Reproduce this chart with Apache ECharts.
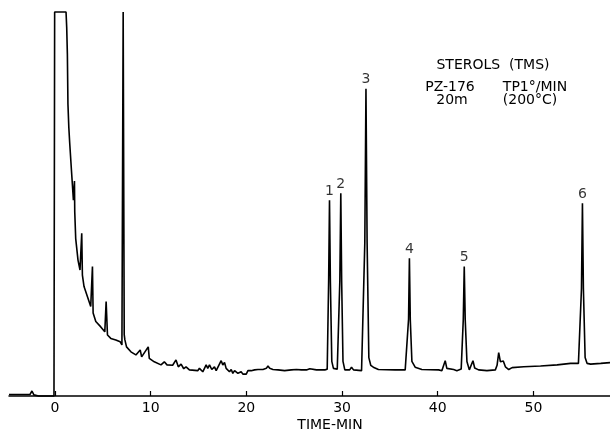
<!DOCTYPE html>
<html>
<head>
<meta charset="utf-8">
<script src="https://cdn.jsdelivr.net/npm/echarts@6/dist/echarts.min.js"></script>
<style>
html,body{margin:0;padding:0;background:#fff;}
#c{width:610px;height:435px;}
</style>
</head>
<body>
<div id="c"></div>
<script>
// Detector trace: time (min) and signal (relative units, 0 = baseline axis, 100 = chart top / off-scale)
const traceTime = [
  -4.8, -2.6, -2.4, -2.2, -1.7, -0.1, -0.03, 1.16, 1.23, 1.3, 1.36, 1.45, 1.54, 1.72, 1.93, 2.04, 2.07,
  2.17, 2.41, 2.62, 2.8, 2.87, 3.04, 3.39, 3.74, 3.92, 3.99, 4.27, 4.79, 5.21, 5.35, 5.49, 5.84, 6.36,
  6.82, 7.0, 7.13, 7.24, 7.31, 7.48, 7.94, 8.46, 8.91, 9.06, 9.75, 9.86, 10.38, 11.08, 11.43, 11.71,
  12.3, 12.65, 12.89, 13.18, 13.46, 13.7, 14.05,
  14.22, 14.92, 15.1, 15.45, 15.8, 15.97, 16.15, 16.39, 16.67, 16.85, 17.37, 17.54, 17.72, 17.89, 18.07,
  18.24, 18.42, 18.59, 18.77, 19.12, 19.46, 19.64, 19.81, 19.99, 20.17, 20.51, 20.86, 21.21, 21.74,
  22.09, 22.26, 22.44, 22.78, 23.31, 24.0, 24.7, 25.23, 25.4, 25.75, 26.28, 26.63, 26.8, 27.33, 28.2, 28.38,
  28.45, 28.6, 28.69, 28.78, 28.93, 29.1, 29.25,
  29.5, 29.77, 29.87, 29.96, 30.1, 30.29, 30.8, 30.99, 31.2, 31.34, 32.04,
  32.2, 32.38, 32.5, 32.62, 32.8, 33.0, 33.27, 33.8, 35.55, 36.6,
  36.78, 36.95, 37.04, 37.13, 37.3, 37.64, 38.34, 40.1, 40.43,
  40.6, 40.78, 40.95, 41.14, 41.66, 42.0,
  42.45, 42.67, 42.77, 42.87, 43.05, 43.3, 43.5, 43.68, 43.86, 44.27, 45.14, 46.02, 46.2, 46.37, 46.55,
  46.72, 46.85, 47.07, 47.42, 47.77, 48.99, 50.74, 52.48, 53.88, 54.7,
  54.85, 55.02, 55.12, 55.22, 55.4, 55.6, 55.98, 57.03, 58.0
];
const traceSignal = [
  0.4, 0.4, 1.3, 0.3, 0.0, 0.0, 100, 100, 96, 89, 76, 70, 66, 59, 51, 56, 48,
  41, 35.4, 32.8, 42.4, 31.5, 28.5, 25.9, 23.3, 33.7, 21.6, 19.4, 18.0, 16.7, 24.6, 15.9, 15.0, 14.6,
  14.1, 13.3, 100, 16, 14.6, 12.8, 11.5, 10.7, 12.0, 10.2, 12.8, 9.8, 8.9, 8.1, 8.9, 8.1,
  8.0, 9.4, 7.6, 8.3, 7.1, 7.6, 6.8,
  6.8, 6.6, 7.2, 6.3, 8.1, 7.2, 8.1, 6.9, 7.6, 6.6, 9.2, 8.1, 8.7, 7.2, 7.6,
  6.3, 6.9, 5.9, 6.6, 5.9, 6.3, 5.7, 6.1, 5.7, 6.6, 6.6, 6.8, 6.9, 6.9,
  7.2, 7.8, 7.2, 6.9, 6.8, 6.6, 6.8, 6.9, 6.6, 6.8, 6.8, 7.1, 6.6, 6.8, 6.8, 6.9,
  7.0, 30, 51, 30, 9, 7.2, 6.9,
  7.0, 30, 52.8, 30, 9, 6.8, 6.8, 7.5, 6.8, 6.9, 6.6,
  7.0, 40, 80, 40, 10, 8, 7.5, 6.9, 6.8, 6.8,
  7.0, 20, 35.9, 20, 9, 7.5, 6.9, 6.8, 6.6,
  7.0, 9.2, 7.2, 6.9, 6.9, 6.6,
  7.0, 20, 33.7, 20, 9, 6.8, 7.0, 9.2, 7.3, 6.8, 6.6, 6.8, 8, 11.3, 8.9,
  9.4, 9.1, 7.6, 6.9, 7.4, 7.6, 7.8, 8.1, 8.5, 8.5,
  9, 28, 50.2, 28, 10, 8.5, 8.3, 8.5, 8.7
];
// Numbered peaks
const peakTime = [28.69, 29.87, 32.5, 37.04, 42.77, 55.12];
const peakHeight = [51, 52.8, 80, 35.9, 33.7, 50.2];
const peakLabel = ['1', '2', '3', '4', '5', '6'];
// Axis ticks
const tickValues = [0, 10, 20, 30, 40, 50];

const traceData = traceTime.map((t, i) => [t, traceSignal[i]]);
const peakData = peakTime.map((t, i) => ({ value: [t, peakHeight[i]], name: peakLabel[i] }));

const FONT = 'DejaVu Sans';
const INK = '#000';

const chart = echarts.init(document.getElementById('c'), null, { renderer: 'canvas' });
chart.setOption({
  animation: false,
  backgroundColor: '#fff',
  grid: { left: 9, right: 0, top: 12, bottom: 39 },
  xAxis: {
    type: 'value',
    min: -4.8,
    max: 58,
    axisLine: { show: true, lineStyle: { color: INK, width: 1.5 } },
    axisTick: { show: true, inside: true, length: 5, customValues: tickValues, lineStyle: { color: INK, width: 1.2 } },
    axisLabel: { show: true, customValues: tickValues, color: INK, fontFamily: FONT, fontSize: 14, margin: 5 },
    splitLine: { show: false }
  },
  yAxis: { type: 'value', min: 0, max: 100, show: false, splitLine: { show: false } },
  series: [
    {
      type: 'line',
      data: traceData,
      symbol: 'none',
      clip: false,
      lineStyle: { color: INK, width: 1.6 },
      z: 3
    },
    {
      type: 'scatter',
      data: peakData,
      symbolSize: 0,
      label: {
        show: true,
        position: 'top',
        distance: 2,
        formatter: p => p.name,
        color: INK,
        fontFamily: FONT,
        fontSize: 14
      },
      z: 4
    }
  ],
  graphic: [
    { type: 'text', x: 330, y: 425, style: { text: 'TIME-MIN', fill: INK, font: '14px ' + FONT, textAlign: 'center', textVerticalAlign: 'middle' } },
    { type: 'text', x: 493, y: 65, style: { text: 'STEROLS  (TMS)', fill: INK, font: '14px ' + FONT, textAlign: 'center', textVerticalAlign: 'middle' } },
    { type: 'text', x: 450, y: 87, style: { text: 'PZ-176', fill: INK, font: '14px ' + FONT, textAlign: 'center', textVerticalAlign: 'middle' } },
    { type: 'text', x: 535, y: 87, style: { text: 'TP1°/MIN', fill: INK, font: '14px ' + FONT, textAlign: 'center', textVerticalAlign: 'middle' } },
    { type: 'text', x: 452, y: 100, style: { text: '20m', fill: INK, font: '14px ' + FONT, textAlign: 'center', textVerticalAlign: 'middle' } },
    { type: 'text', x: 530, y: 100, style: { text: '(200°C)', fill: INK, font: '14px ' + FONT, textAlign: 'center', textVerticalAlign: 'middle' } }
  ]
});
</script>
</body>
</html>
